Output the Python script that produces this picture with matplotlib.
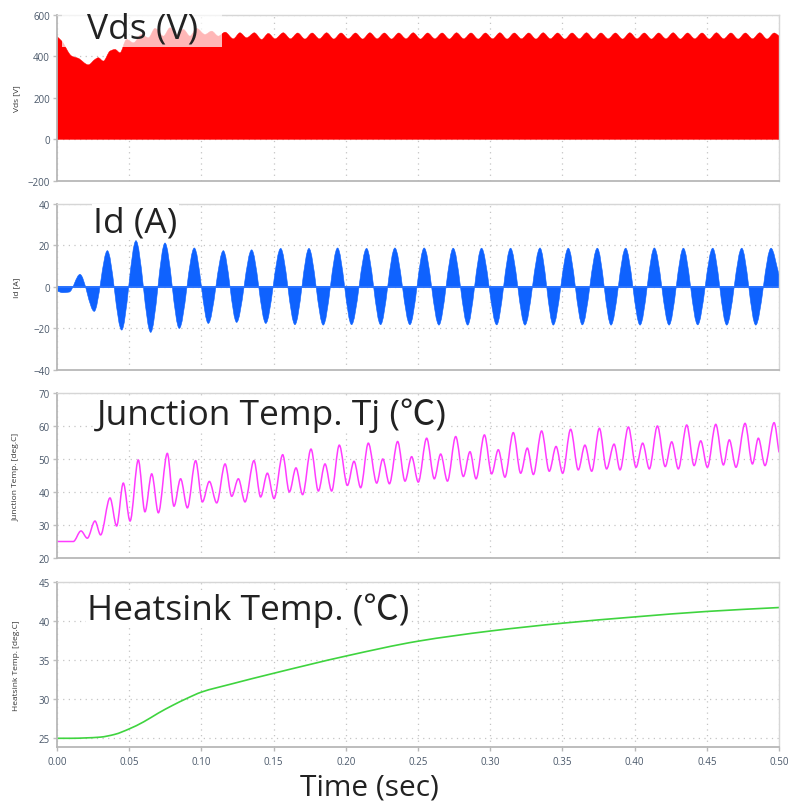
import matplotlib
matplotlib.use("Agg")
import matplotlib.pyplot as plt
import numpy as np
from matplotlib.path import Path
from matplotlib.patches import PathPatch, Rectangle

# ---- data (times in s) ----
# Vds upper envelope (the switching waveform is drawn as a fill from 0)
vds_t = [0.0000, 0.0033, 0.0102, 0.0148, 0.0217, 0.0263, 0.0286, 0.0321, 0.0367, 0.0402,
         0.0436, 0.0482, 0.0529, 0.0586, 0.0633, 0.0679, 0.0737, 0.0783, 0.0829, 0.0875,
         0.0921, 0.0967, 0.1025, 0.1071, 0.1117, 0.1164, 0.1221, 0.1267, 0.1313, 0.1367,
         0.1417, 0.1464, 0.1510, 0.1567, 0.1617, 0.1667, 0.1717, 0.1767, 0.1817, 0.1867,
         0.1917, 0.1967, 0.2017, 0.2067, 0.2117, 0.2167, 0.2217, 0.2267, 0.2317, 0.2367,
         0.2417, 0.2467, 0.2517, 0.2567, 0.2617, 0.2667, 0.2717, 0.2767, 0.2817, 0.2867,
         0.2917, 0.2967, 0.3017, 0.3067, 0.3117, 0.3167, 0.3217, 0.3267, 0.3317, 0.3367,
         0.3417, 0.3467, 0.3517, 0.3567, 0.3617, 0.3667, 0.3717, 0.3767, 0.3817, 0.3867,
         0.3917, 0.3967, 0.4017, 0.4067, 0.4117, 0.4167, 0.4217, 0.4267, 0.4317, 0.4367,
         0.4417, 0.4467, 0.4517, 0.4567, 0.4617, 0.4667, 0.4717, 0.4767, 0.4817, 0.4867,
         0.4917, 0.4967, 0.5000]
vds_v = [495, 473, 401, 390, 359, 385, 393, 377, 425, 433,
         417, 481, 465, 505, 489, 534, 497, 537, 505, 529,
         497, 534, 505, 521, 497, 516, 484, 513, 489, 513,
         481, 510, 484, 513, 484, 512, 483, 512, 484, 513,
         483, 512, 484, 512, 483, 513, 484, 512, 483, 512,
         484, 513, 483, 512, 484, 512, 483, 513, 484, 512,
         483, 512, 484, 513, 483, 512, 484, 512, 483, 513,
         484, 512, 483, 512, 484, 513, 483, 512, 484, 512,
         483, 513, 484, 512, 483, 512, 484, 513, 483, 512,
         484, 512, 483, 513, 484, 512, 483, 512, 484, 513,
         483, 512, 498]

# Id envelope extrema (PWM current fills between 0 and this envelope)
id_t = [0.0000, 0.0040, 0.0085, 0.0159,
        0.0258, 0.0349, 0.0448, 0.0547, 0.0649, 0.0748, 0.0847, 0.0951, 0.1048, 0.1152,
        0.1244, 0.1348, 0.1446, 0.1549, 0.1648, 0.1745, 0.1844, 0.1943, 0.2040, 0.2144,
        0.2241, 0.2340, 0.2444, 0.2543,
        0.2645, 0.2744, 0.2844, 0.2940, 0.3045, 0.3141, 0.3241, 0.3345, 0.3437, 0.3541,
        0.3638, 0.3742, 0.3837, 0.3938, 0.4038, 0.4137, 0.4239, 0.4338, 0.4437, 0.4541,
        0.4638, 0.4742, 0.4839, 0.4945, 0.5000]
id_v = [-2.0, -2.8, -2.5, 6.0,
        -11.8, 17.4, -20.8, 22.2, -21.9, 21.1, -20.0, 18.7, -17.6, 17.4,
        -17.1, 17.8, -17.6, 18.5, -18.2, 18.5, -18.4, 18.7, -18.2, 18.5,
        -18.2, 18.7, -18.2, 18.7,
        -18.4, 18.6, -18.4, 18.6, -18.3, 18.6, -18.4, 18.7, -18.4, 18.6,
        -18.3, 18.6, -18.4, 18.6, -18.4, 18.7, -18.4, 18.6, -18.3, 18.6,
        -18.4, 18.6, -18.4, 18.6, 6.0]

# Junction temperature extrema
tj_t = [0.0000, 0.0113, 0.0166, 0.0210, 0.0263, 0.0302, 0.0367, 0.0413, 0.0459, 0.0506,
        0.0563, 0.0609, 0.0656, 0.0702, 0.0764, 0.0810, 0.0856, 0.0903, 0.0960, 0.1007,
        0.1055, 0.1106, 0.1164, 0.1210, 0.1256, 0.1302, 0.1364, 0.1410, 0.1457, 0.1503,
        0.1563, 0.1609, 0.1655, 0.1701, 0.1759, 0.1810, 0.1856, 0.1902, 0.1955, 0.2011,
        0.2057, 0.2103, 0.2156, 0.2214, 0.2256, 0.2302, 0.2359, 0.2410, 0.2456, 0.2502,
        0.2560, 0.2613, 0.2657, 0.2704, 0.2761, 0.2814, 0.2860, 0.2902, 0.2960, 0.3010,
        0.3056, 0.3102, 0.3160, 0.3211, 0.3257, 0.3299, 0.3356, 0.3409, 0.3456, 0.3502,
        0.3557, 0.3610, 0.3656, 0.3703, 0.3756, 0.3806, 0.3858, 0.3899, 0.3957, 0.4010,
        0.4056, 0.4102, 0.4158, 0.4212, 0.4257, 0.4303, 0.4361, 0.4412, 0.4458, 0.4504,
        0.4562, 0.4615, 0.4656, 0.4702, 0.4765, 0.4816, 0.4857, 0.4903, 0.4966, 0.5000]
tj_v = [25.0, 25.0, 28.2, 26.0, 31.2, 27.0, 38.2, 29.7, 42.7, 31.2,
        49.7, 34.0, 45.5, 33.7, 51.7, 35.7, 44.0, 35.2, 49.5, 37.0,
        43.2, 36.7, 48.5, 38.7, 44.0, 37.0, 49.5, 38.5, 45.7, 38.0,
        51.3, 40.0, 47.3, 39.2, 53.0, 40.3, 48.5, 40.3, 54.2, 42.0,
        49.3, 41.3, 54.8, 42.7, 50.0, 42.5, 55.3, 43.3, 50.7, 43.0,
        56.3, 44.0, 51.5, 43.3, 56.8, 44.7, 52.2, 44.0, 57.3, 45.5,
        52.8, 44.5, 58.0, 45.7, 53.3, 45.3, 58.5, 46.3, 53.8, 45.7,
        59.0, 46.7, 54.2, 46.3, 59.3, 47.0, 54.5, 46.7, 59.7, 47.5,
        54.8, 47.0, 60.0, 47.7, 55.2, 47.0, 60.3, 48.0, 55.5, 47.5,
        60.5, 48.2, 55.8, 47.5, 60.8, 48.5, 56.3, 48.0, 61.0, 52.0]

# Heatsink temperature
hs_t = [0.00, 0.01, 0.02, 0.03, 0.04, 0.05, 0.06, 0.07, 0.08, 0.09, 0.10, 0.12,
        0.15, 0.20, 0.25, 0.30, 0.35, 0.40, 0.45, 0.50]
hs_v = [25.0, 25.0, 25.05, 25.15, 25.5, 26.2, 27.1, 28.2, 29.2, 30.1, 30.9, 31.9,
        33.3, 35.5, 37.4, 38.7, 39.7, 40.5, 41.2, 41.7]

x_ticks = [0.00, 0.05, 0.10, 0.15, 0.20, 0.25, 0.30, 0.35, 0.40, 0.45, 0.50]
titles = ["Vds (V)", "Id (A)", "Junction Temp. Tj (℃)", "Heatsink Temp. (℃)"]
ylabels = ["Vds [V]", "Id [A]", "Junction Temp. [deg.C]", "Heatsink Temp. [deg.C]"]
yticks = [[-200, 0, 200, 400, 600], [-40, -20, 0, 20, 40],
          [20, 30, 40, 50, 60, 70], [25, 30, 35, 40, 45]]
ylims = [(-200, 600), (-40, 40), (20, 70), (23.85, 45)]


def smooth_curve(t, v):
    # cubic Bezier segments through the read points (monotone tangents)
    t = np.asarray(t, float)
    v = np.asarray(v, float)
    h = np.diff(t)
    d = np.diff(v) / h
    m = np.zeros_like(v)
    for i in range(1, len(v) - 1):
        if d[i - 1] * d[i] > 0:
            w1 = 2 * h[i] + h[i - 1]
            w2 = h[i] + 2 * h[i - 1]
            m[i] = (w1 + w2) / (w1 / d[i - 1] + w2 / d[i])
    m[0] = d[0]
    m[-1] = d[-1]
    verts = [(t[0], v[0])]
    codes = [Path.MOVETO]
    for i in range(len(h)):
        verts += [(t[i] + h[i] / 3, v[i] + m[i] * h[i] / 3),
                  (t[i + 1] - h[i] / 3, v[i + 1] - m[i + 1] * h[i] / 3),
                  (t[i + 1], v[i + 1])]
        codes += [Path.CURVE4] * 3
    return verts, codes


def filled_to_zero(t, v):
    verts, codes = smooth_curve(t, v)
    verts += [(t[-1], 0), (t[0], 0), (t[0], 0)]
    codes += [Path.LINETO, Path.LINETO, Path.CLOSEPOLY]
    return Path(verts, codes)


W, H = 788, 803
fig = plt.figure(figsize=(W / 100, H / 100), dpi=100)
font = ["Open Sans", "Noto Sans CJK JP", "DejaVu Sans"]
plt.rcParams["font.family"] = font

panels = [(15.7, 182.0), (204.7, 371.0), (394.0, 559.0), (582.7, 748.3)]
axes = []
for k, (top, bot) in enumerate(panels):
    ax = fig.add_axes([57 / W, 1 - bot / H, (779 - 57) / W, (bot - top) / H])
    ax.set_xlim(0, 0.5)
    ax.set_ylim(*ylims[k])
    ax.set_yticks(yticks[k])
    ax.set_xticks(x_ticks)
    ax.grid(True, color="#c4c4c4", linestyle=(0, (1, 3.5)), linewidth=0.9)
    ax.set_axisbelow(True)
    for s in ["top", "right"]:
        ax.spines[s].set_color("#d6d6d6")
        ax.spines[s].set_linewidth(1.0)
    for s in ["left", "bottom"]:
        ax.spines[s].set_color("#b8b8b8")
        ax.spines[s].set_linewidth(1.3)
    ax.tick_params(axis="y", labelsize=7, colors="#c0c0c0", labelcolor="#4a586a",
                   length=3, width=1, pad=2)
    if k < 3:
        ax.tick_params(axis="x", length=0, labelbottom=False)
    else:
        ax.tick_params(axis="x", labelsize=7, colors="#b8b8b8", labelcolor="#4a586a",
                       length=3, width=1, pad=3)
        ax.set_xticklabels([f"{x:.2f}" for x in x_ticks])
    ax.set_ylabel(ylabels[k], fontsize=6, color="#333333")
    ax.yaxis.set_label_coords(-0.051, 0.5)
    axes.append(ax)

# Vds
axes[0].add_patch(PathPatch(filled_to_zero(vds_t, vds_v), facecolor="#ff0000",
                            edgecolor="#ff0000", linewidth=0.3, zorder=2))
# Id
axes[1].add_patch(PathPatch(filled_to_zero(id_t, id_v), facecolor="#0f62fe",
                            edgecolor="#0f62fe", linewidth=0.4, zorder=2))
axes[1].axhline(0, color="#2a73ff", linewidth=1.4, zorder=2)
# Tj
verts, codes = smooth_curve(tj_t, tj_v)
axes[2].add_patch(PathPatch(Path(verts, codes), facecolor="none",
                            edgecolor="#ff3cff", linewidth=1.1, zorder=2))
# Heatsink
verts, codes = smooth_curve(hs_t, hs_v)
axes[3].add_patch(PathPatch(Path(verts, codes), facecolor="none",
                            edgecolor="#3fd43f", linewidth=1.2, zorder=2))

# semi-transparent label box over the Vds trace
fig.add_artist(Rectangle((62 / W, 1 - 48 / H), (222 - 62) / W, 48 / H,
                         transform=fig.transFigure, facecolor="white",
                         edgecolor="none", alpha=0.72, zorder=5))

title_pos = [(87, 39), (93, 232), (97, 425), (87, 620)]
title_box = [None, dict(facecolor="white", edgecolor="none", pad=1),
             dict(facecolor="white", edgecolor="none", pad=1),
             dict(facecolor="white", edgecolor="none", pad=1)]
for k, txt in enumerate(titles):
    x, y = title_pos[k]
    fig.text(x / W, 1 - y / H, txt, fontsize=25.5, color="#222222", ha="left",
             va="baseline", bbox=title_box[k], zorder=6)

fig.text(369 / W, 1 - 796 / H, "Time (sec)", fontsize=21.5, color="#222222",
         ha="center", va="baseline")

fig.savefig("out.png", dpi=100)
